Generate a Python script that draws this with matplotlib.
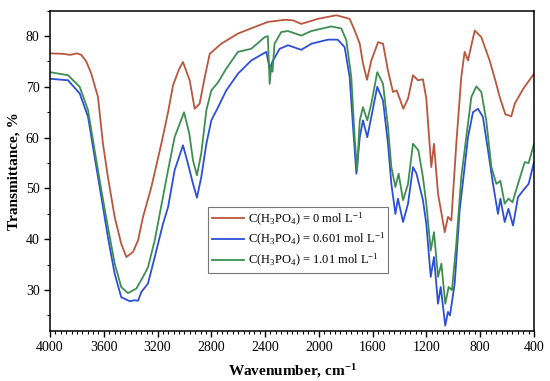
import matplotlib
matplotlib.use("Agg")
import matplotlib.pyplot as plt
from matplotlib.ticker import MultipleLocator

plt.rcParams['font.family'] = ['Liberation Serif', 'DejaVu Serif']
plt.rcParams['mathtext.fontset'] = 'custom'
plt.rcParams['mathtext.rm'] = 'Liberation Serif'
plt.rcParams['mathtext.it'] = 'Liberation Serif:italic'
plt.rcParams['mathtext.bf'] = 'Liberation Serif:bold'

labels = [r"C(H$_3$PO$_4$) = 0 mol L$^{-1}$",
          r"C(H$_3$PO$_4$) = 0.601 mol L$^{-1}$",
          r"C(H$_3$PO$_4$) = 1.01 mol L$^{-1}$"]
colors = ["#B9563D", "#2D4FD6", "#3E8E52"]

wn_red = [4000, 3900, 3850, 3800, 3767, 3730, 3693, 3643, 3606, 3569, 3519, 3470, 3432, 3383,
          3345, 3308, 3246, 3172, 3122, 3085, 3040, 3011, 2961, 2924, 2887, 2849, 2812, 2726,
          2602, 2477, 2378, 2254, 2193, 2131, 2007, 1870, 1771, 1734, 1696, 1672, 1642, 1610,
          1560, 1523, 1486, 1449, 1421, 1372, 1337, 1300, 1263, 1226, 1201, 1164, 1144, 1114,
          1064, 1040, 1015, 978, 941, 916, 891, 841, 792, 730, 688, 655, 613, 569, 543, 481, 400]
t_red = [76.6, 76.5, 76.3, 76.6, 76.3, 75.0, 72.6, 68.0, 58.8, 52.2, 44.4, 39.1, 36.5, 37.5,
         39.8, 44.4, 50.3, 58.8, 65.0, 70.3, 73.5, 74.9, 71.3, 65.7, 66.7, 71.9, 76.5, 78.5,
         80.5, 81.8, 82.8, 83.2, 83.1, 82.4, 83.4, 84.1, 83.4, 81.1, 78.5, 74.6, 71.4, 75.2,
         78.8, 78.5, 73.2, 69.0, 69.3, 65.7, 67.7, 72.3, 71.3, 71.5, 67.7, 54.2, 58.8, 49.0,
         41.4, 44.4, 43.7, 58.8, 71.9, 76.9, 75.2, 81.1, 79.8, 75.2, 71.3, 68.0, 64.6, 64.2,
         66.7, 69.6, 72.6]

wn_blue = [4000, 3866, 3779, 3717, 3668, 3618, 3569, 3519, 3470, 3407, 3370, 3345, 3321, 3271,
           3221, 3160, 3122, 3073, 3011, 2974, 2936, 2907, 2875, 2837, 2800, 2750, 2689, 2602,
           2503, 2391, 2366, 2345, 2292, 2230, 2131, 2056, 1932, 1860, 1808, 1771, 1746, 1721,
           1696, 1672, 1640, 1610, 1566, 1523, 1486, 1461, 1431, 1412, 1374, 1337, 1300, 1275,
           1226, 1201, 1168, 1144, 1114, 1094, 1060, 1040, 1025, 990, 953, 916, 891, 854, 817,
           780, 742, 705, 668, 650, 618, 590, 556, 519, 481, 440, 400]
t_blue = [71.6, 71.3, 68.7, 64.1, 56.2, 48.3, 40.4, 33.2, 28.6, 27.8, 28.0, 27.9, 29.6, 31.3,
          36.5, 43.0, 46.3, 53.6, 58.5, 54.9, 50.9, 48.2, 52.2, 58.8, 63.4, 66.0, 69.3, 72.6,
          75.2, 76.9, 73.6, 75.0, 77.5, 78.2, 77.3, 78.5, 79.3, 79.3, 77.8, 71.9, 62.1, 52.9,
          60.1, 63.4, 60.1, 64.1, 70.0, 67.3, 58.8, 50.9, 45.0, 48.0, 43.4, 47.0, 54.2, 53.0,
          47.7, 43.0, 32.6, 36.5, 27.3, 30.6, 23.0, 25.7, 25.0, 31.3, 45.7, 54.2, 60.1, 65.0,
          65.7, 64.1, 57.5, 50.9, 45.0, 48.0, 43.4, 46.0, 42.7, 48.3, 49.6, 50.9, 55.2]

wn_green = [4000, 3866, 3779, 3717, 3668, 3618, 3569, 3519, 3470, 3420, 3358, 3308, 3271, 3221,
            3160, 3122, 3073, 3003, 2964, 2936, 2907, 2875, 2837, 2800, 2750, 2689, 2602, 2503,
            2403, 2380, 2366, 2355, 2345, 2330, 2280, 2230, 2131, 2056, 1908, 1833, 1796, 1759,
            1734, 1716, 1696, 1672, 1640, 1610, 1566, 1523, 1486, 1461, 1431, 1407, 1374, 1337,
            1300, 1260, 1226, 1201, 1168, 1144, 1114, 1089, 1060, 1035, 1010, 978, 941, 904,
            866, 829, 792, 755, 717, 680, 650, 618, 590, 560, 519, 469, 440, 400]
t_green = [72.9, 72.3, 70.0, 65.4, 57.5, 49.6, 42.4, 35.2, 30.6, 29.4, 30.3, 32.6, 34.5, 39.8,
           48.3, 53.6, 60.1, 65.0, 60.8, 55.5, 52.6, 56.9, 65.4, 69.3, 70.9, 73.6, 76.9, 77.5,
           79.8, 80.0, 70.6, 74.0, 73.0, 78.5, 80.8, 81.0, 80.1, 81.0, 81.9, 81.5, 79.2, 71.9,
           60.1, 53.6, 63.4, 66.0, 63.4, 66.7, 72.9, 70.6, 62.1, 54.2, 50.3, 52.9, 47.7, 50.9,
           58.8, 57.5, 52.2, 47.0, 37.8, 41.4, 32.6, 35.2, 27.3, 30.6, 30.0, 39.1, 52.2, 60.1,
           68.0, 70.1, 69.0, 63.4, 54.2, 50.9, 51.5, 47.0, 48.0, 47.3, 50.9, 55.2, 55.0, 58.8]

fig = plt.figure(figsize=(5.5, 3.81), dpi=100)
ax = fig.add_axes([50/550, 1-330.7/381, 484/550, 320/381])

ax.plot(wn_red, t_red, color=colors[0], lw=1.3, label=labels[0])
ax.plot(wn_blue, t_blue, color=colors[1], lw=1.3, label=labels[1])
ax.plot(wn_green, t_green, color=colors[2], lw=1.3, label=labels[2])

ax.set_xlim(4000, 400)
ax.set_ylim(22, 85)
ax.xaxis.set_major_locator(MultipleLocator(400))
ax.xaxis.set_minor_locator(MultipleLocator(40))
ax.yaxis.set_major_locator(MultipleLocator(10))
ax.yaxis.set_minor_locator(MultipleLocator(5))
ax.set_yticks([30, 40, 50, 60, 70, 80])
ax.tick_params(axis='both', which='major', direction='out', length=4, width=1,
               labelsize=10, top=False, right=False)
ax.tick_params(axis='both', which='minor', direction='out', length=2, width=0.8,
               top=False, right=False)
for s in ax.spines.values():
    s.set_linewidth(1.1)

ax.set_xlabel(r"Wavenumber, cm$^{\mathbf{-1}}$", fontsize=11, fontweight='bold', labelpad=6)
ax.set_ylabel("Transmittance, %", fontsize=11, fontweight='bold', labelpad=4)

leg = ax.legend(loc='upper left', bbox_to_anchor=(0.326, 0.387), borderaxespad=0,
                fontsize=9, frameon=True, fancybox=False, edgecolor='#555555',
                handlelength=2.6, handletextpad=0.3, labelspacing=0.3, borderpad=0.3)
leg.get_frame().set_linewidth(0.8)

fig.savefig("out.png", dpi=100)
